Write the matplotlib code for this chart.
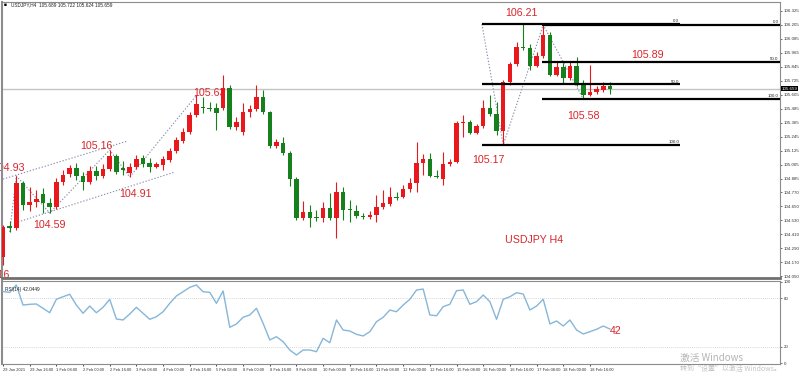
import matplotlib
matplotlib.use('Agg')
import matplotlib.pyplot as plt
import matplotlib.transforms as mtransforms
import numpy as np

plt.rcParams['font.family'] = ['Liberation Sans', 'DejaVu Sans']

# ---------------- data (USDJPY H4) ----------------
opens = [104.213, 104.479, 104.462, 104.849, 104.660, 104.685, 104.754, 104.677, 104.642, 104.857,
         104.926, 104.977, 104.909, 104.857, 104.952, 104.909, 104.969, 105.080, 104.977, 104.934,
         104.986, 105.063, 105.020, 104.986, 105.003, 105.046, 105.123, 105.209, 105.286, 105.432,
         105.501, 105.492, 105.492, 105.492, 105.664, 105.329, 105.286, 105.458, 105.484, 105.587,
         105.458, 105.166, 105.192, 105.106, 104.883, 104.548, 104.600, 104.557, 104.548, 104.634,
         104.548, 104.771, 104.625, 104.608, 104.565, 104.557, 104.574, 104.642, 104.668, 104.728,
         104.728, 104.797, 104.849, 105.020, 105.055, 104.909, 104.883, 105.012, 105.029, 105.364,
         105.372, 105.278, 105.338, 105.492, 105.441, 105.295, 105.716, 105.870, 106.016, 106.007,
         105.853, 105.939, 106.119, 105.776, 105.844, 105.750, 105.853, 105.690, 105.604, 105.630,
         105.647, 105.681]
highs = [104.488, 104.522, 104.909, 104.866, 104.814, 104.788, 104.806, 104.720, 104.891, 104.960,
         105.003, 105.020, 104.943, 104.994, 104.994, 105.012, 105.132, 105.097, 105.037, 105.020,
         105.089, 105.089, 105.063, 105.029, 105.080, 105.149, 105.243, 105.321, 105.458, 105.600,
         105.587, 105.544, 105.535, 105.776, 105.690, 105.415, 105.535, 105.518, 105.690, 105.647,
         105.467, 105.226, 105.243, 105.123, 104.900, 104.694, 104.660, 104.617, 104.685, 104.763,
         104.857, 104.814, 104.703, 104.660, 104.591, 104.608, 104.746, 104.788, 104.814, 104.771,
         104.831, 104.891, 105.200, 105.097, 105.106, 104.960, 105.115, 105.055, 105.381, 105.432,
         105.389, 105.355, 105.561, 105.604, 105.544, 105.733, 105.887, 106.059, 106.213, 106.042,
         105.973, 106.205, 106.145, 105.887, 105.879, 105.887, 105.930, 105.733, 105.861, 105.681,
         105.716, 105.716]
lows = [104.145, 104.428, 104.445, 104.617, 104.608, 104.642, 104.591, 104.591, 104.625, 104.831,
        104.900, 104.874, 104.788, 104.840, 104.874, 104.891, 104.952, 104.926, 104.917, 104.900,
        104.969, 104.986, 104.943, 104.977, 104.960, 105.029, 105.106, 105.192, 105.269, 105.415,
        105.449, 105.467, 105.304, 105.475, 105.312, 105.304, 105.261, 105.415, 105.467, 105.441,
        105.149, 105.149, 105.089, 104.823, 104.531, 104.531, 104.471, 104.522, 104.514, 104.531,
        104.376, 104.531, 104.514, 104.548, 104.540, 104.540, 104.514, 104.625, 104.651, 104.703,
        104.720, 104.771, 104.771, 104.917, 104.900, 104.891, 104.831, 104.994, 105.020, 105.243,
        105.269, 105.269, 105.321, 105.424, 105.261, 105.175, 105.690, 105.853, 105.990, 105.819,
        105.844, 105.922, 105.767, 105.767, 105.698, 105.733, 105.681, 105.570, 105.595, 105.613,
        105.630, 105.613]
closes = [104.471, 104.462, 104.849, 104.660, 104.685, 104.711, 104.677, 104.642, 104.857, 104.917,
          104.977, 104.909, 104.857, 104.952, 104.909, 104.969, 105.080, 104.943, 104.960, 104.986,
          105.055, 105.012, 104.986, 105.012, 105.055, 105.123, 105.218, 105.286, 105.432, 105.527,
          105.492, 105.484, 105.449, 105.664, 105.329, 105.372, 105.458, 105.484, 105.587, 105.458,
          105.166, 105.200, 105.106, 104.883, 104.548, 104.600, 104.548, 104.548, 104.634, 104.548,
          104.771, 104.617, 104.617, 104.565, 104.557, 104.574, 104.642, 104.677, 104.728, 104.720,
          104.797, 104.849, 105.020, 105.055, 104.909, 104.900, 105.012, 105.029, 105.364, 105.372,
          105.278, 105.338, 105.492, 105.441, 105.295, 105.716, 105.870, 106.016, 106.007, 105.853,
          105.939, 106.119, 105.776, 105.844, 105.750, 105.853, 105.690, 105.604, 105.630, 105.655,
          105.681, 105.659]
rsi = [88, 86.8, 96, 71.4, 72.3, 72.7, 67.4, 62, 78.4, 81.6,
       84.6, 71.4, 61.3, 70.2, 62, 68.6, 78.4, 54.3, 53.1, 60.4,
       68.6, 61.3, 53.9, 57.1, 63.2, 73.5, 82.5, 87.7, 93.1, 96,
       87.7, 87, 73.5, 88.6, 44.1, 48.2, 56.4, 59.2, 67.4, 49,
       28.6, 32.6, 26.5, 16.3, 10.2, 16.3, 16.3, 14.2, 30.6, 25.2,
       53.1, 40.8, 39.6, 35.5, 33.5, 38.7, 51, 56.4, 65.3, 63.2,
       71.4, 78.4, 89.8, 91, 59.2, 58.3, 69.4, 72.3, 89, 89.8,
       72.3, 75.5, 83.7, 75.5, 53.9, 78.4, 81.6, 86.5, 84.9, 65.3,
       70.2, 78.4, 48.2, 51.8, 45.7, 53.1, 40.8, 35.9, 38.7, 41.7,
       45.7, 42.0]
date_labels = ['29 Jan 2021', '29 Jan 16:00', '1 Feb 08:00', '2 Feb 00:00', '2 Feb 16:00',
               '3 Feb 08:00', '4 Feb 00:00', '4 Feb 16:00', '5 Feb 08:00', '8 Feb 00:00',
               '8 Feb 16:00', '9 Feb 08:00', '10 Feb 00:00', '10 Feb 16:00', '11 Feb 08:00',
               '12 Feb 00:00', '12 Feb 16:00', '15 Feb 08:00', '16 Feb 00:00', '16 Feb 16:00',
               '17 Feb 08:00', '18 Feb 00:00', '18 Feb 16:00']
price_ticks = [106.325, 106.205, 106.085, 105.965, 105.845, 105.725, 105.605, 105.485, 105.365,
               105.245, 105.125, 105.005, 104.885, 104.770, 104.650, 104.530, 104.410, 104.290,
               104.170, 104.050]
rsi_ticks = [100, 80, 20, 0]
rsi_levels = [80, 20]
swing_labels = ['104.93', '105.16', '104.91', '104.59', '105.63', '104.16',
                '106.21', '105.17', '105.89', '105.58']
fib_ratios = [0.0, 50.0, 100.0]

# ---------------- figure ----------------
W, H = 800, 375
fig = plt.figure(figsize=(W / 100, H / 100), dpi=100)
fig.patch.set_facecolor('white')

def box(x0, y0, x1, y1):
    return [x0 / W, 1 - y1 / H, (x1 - x0) / W, (y1 - y0) / H]

ax = fig.add_axes(box(2, 2, 780, 278))
ar = fig.add_axes(box(2, 281, 780, 364))

RED = '#e8181d'
GREEN = '#16801c'
TXT = '#d8262b'
DOT = '#8a8fae'

o = np.array(opens); h = np.array(highs); l = np.array(lows); c = np.array(closes)
x = np.arange(len(o))
cols = np.where(c > o, RED, GREEN)

ax.axhline(closes[-1], color='#c4c4c4', lw=1.0, zorder=1)
ax.vlines(x, l, h, colors=cols, lw=0.8, zorder=3)
ax.bar(x, np.maximum(np.abs(c - o), 0.008), bottom=np.minimum(o, c), width=0.68,
       color=cols, linewidth=0, zorder=4)

ax.set_xlim(-0.15, 116.5)
ax.set_ylim(104.033, 106.402)
ar.set_xlim(-0.15, 116.5)
ar.set_ylim(-0.86, 100.86)

# dotted zigzag / channel lines
dk = dict(color=DOT, lw=0.8, ls=(0, (1.2, 1.6)), zorder=2)
zz = [(1, lows[1]), (2, highs[2]), (7, lows[7]), (16, highs[16]), (19, lows[19]), (29, highs[29])]
ax.plot([p[0] for p in zz], [p[1] for p in zz], **dk)
ax.plot([-0.45, 18.7], [104.874, 105.209], **dk)
ax.plot([2.25, 25.8], [104.514, 104.943], **dk)

# Fibonacci retracements
f1_hi, f1_lo = highs[78], lows[75]
f2_hi, f2_lo = highs[81], lows[87]
ax.plot([71.8, 75, 81, 87], [f1_hi, f1_lo, f2_hi, f2_lo], **dk)
for r in fib_ratios:
    y1 = f1_hi - r / 100 * (f1_hi - f1_lo)
    ax.hlines(y1, 71.8, 101.5, color='black', lw=1.6, zorder=5)
    ax.text(101.4, y1 + 0.006, f'{r:.1f}', fontsize=3.2, ha='right', va='bottom', color='#222')
    y2 = f2_hi - r / 100 * (f2_hi - f2_lo)
    ax.hlines(y2, 80.8, 116.5, color='black', lw=1.6, zorder=5)
    ax.text(116.3, y2 + 0.006, f'{r:.1f}', fontsize=3.2, ha='right', va='bottom', color='#222')

# red swing labels
lk = dict(color=TXT, fontsize=7.7, va='center', zorder=2)
ax.text(3.3, 104.977, swing_labels[0], ha='right', **lk)
ax.text(14.0, 105.166, swing_labels[1], ha='center', **lk)
ax.text(19.9, 104.754, swing_labels[2], ha='center', **lk)
ax.text(6.9, 104.488, swing_labels[3], ha='center', **lk)
ax.text(31.0, 105.621, swing_labels[4], ha='center', **lk)
ax.text(1.05, 104.059, swing_labels[5], ha='right', clip_on=False, **lk)
ax.text(77.7, 106.308, swing_labels[6], ha='center', **lk)
ax.text(72.8, 105.046, swing_labels[7], ha='center', **lk)
ax.text(96.7, 105.947, swing_labels[8], ha='center', **lk)
ax.text(87.0, 105.424, swing_labels[9], ha='center', **lk)
ax.text(79.6, 104.359, 'USDJPY H4', ha='center', **lk)

# axes styling
for a in (ax, ar):
    for s in a.spines.values():
        s.set_color('#8c8c8c')
        s.set_linewidth(0.8)
    a.yaxis.tick_right()
    a.tick_params(axis='y', which='both', length=1.5, width=0.5, pad=1.0,
                  labelsize=3.2, colors='#333333')
ax.spines['bottom'].set_linewidth(2.0)
ax.spines['bottom'].set_color('#707070')
ax.spines['left'].set_linewidth(1.5)
ar.spines['left'].set_linewidth(1.5)
ax.set_xticks([])
ax.set_yticks(price_ticks)
ax.set_yticklabels([f'{v:.3f}' for v in price_ticks])

tr = mtransforms.blended_transform_factory(ax.transAxes, ax.transData)
ax.text(1.002, closes[-1], f'{closes[-1]:.3f}', transform=tr, fontsize=3.2, color='white',
        ha='left', va='center', clip_on=False, zorder=10,
        bbox=dict(fc='black', ec='none', pad=0.5))

# RSI panel
ar.plot(x, rsi, color='#86b6d8', lw=1.0, zorder=3)
for lv in rsi_levels:
    ar.axhline(lv, color='#c8c8c8', lw=0.6, ls=(0, (1, 1.5)), zorder=1)
ar.set_yticks(rsi_ticks)
ar.set_yticklabels([str(v) for v in rsi_ticks])
ar.set_xticks(np.arange(0, len(date_labels) * 4, 4))
ar.set_xticklabels(date_labels, fontsize=2.9, ha='left', color='#333333')
ar.tick_params(axis='x', length=1.5, width=0.5, pad=1.5)
ar.text(0.004, 0.9, f'RSI(14) {rsi[-1] + 0.0449:.4f}', transform=ar.transAxes,
        fontsize=3.4, color='#222', va='center')
ar.text(91.8, 39.6, '42', color=TXT, fontsize=7.7, ha='center', va='center')

# header text
fig.text(4 / W, 1 - 5 / H, '\u25a0', fontsize=3.5, color='black', va='center')
fig.text(11 / W, 1 - 5 / H, 'USDJPY,H4  105.689 105.722 105.624 105.659', fontsize=3.4,
         color='#222', va='center')

# Windows activation watermark
fig.text(680 / W, 1 - 358 / H, '激活 Windows', fontsize=7, color='#b4b4b4', va='center',
         family=['Noto Sans CJK SC', 'DejaVu Sans'])
fig.text(680 / W, 1 - 369 / H, '转到“设置”以激活 Windows。', fontsize=5, color='#c4c4c4',
         va='center', family=['Noto Sans CJK SC', 'DejaVu Sans'])

fig.savefig('out.png', dpi=100, facecolor='white')
